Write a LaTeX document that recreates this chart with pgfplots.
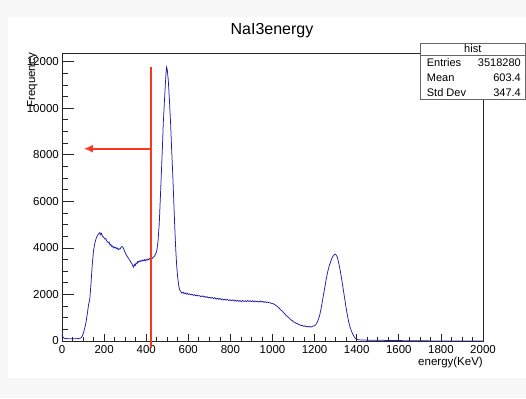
\documentclass[border=0pt]{standalone}
\usepackage{fontspec}
\setmainfont{Liberation Sans}
\usepackage{pgfplots}
\pgfplotsset{compat=1.18}
\usetikzlibrary{arrows.meta}
\definecolor{histblue}{RGB}{30,30,170}
\definecolor{rootred}{RGB}{250,55,30}
\definecolor{bggray}{RGB}{247,247,247}
\begin{document}
\begin{tikzpicture}
\useasboundingbox (-62pt,-57pt) rectangle (464pt,341pt);
\fill[bggray] (-62pt,-57pt) rectangle (464pt,341pt);
\fill[white] (-54pt,-37pt) rectangle (464pt,324pt);
\begin{axis}[
  scale only axis, width=421pt, height=288pt,
  at={(0,0)}, anchor=south west,
  xmin=0, xmax=2000, ymin=0, ymax=12370,
  xtick={0,200,...,2000}, ytick={0,2000,...,12000},
  minor x tick num=3, minor y tick num=3,
  tick align=inside, xtick pos=lower, ytick pos=left,
  axis line style={black!85, line width=0.8pt},
  every tick/.style={black!85, line width=0.7pt},
  xtick style={/pgfplots/major tick length=7pt,/pgfplots/minor tick length=4pt},
  ytick style={/pgfplots/major tick length=12pt,/pgfplots/minor tick length=6pt},
  scaled y ticks=false, scaled x ticks=false,
  /pgf/number format/assume math mode=true,
  /pgf/number format/1000 sep={},
  yticklabel style={font=\fontsize{11.5}{13}\selectfont, inner sep=0pt, xshift=-3pt},
  xticklabel style={font=\fontsize{11.5}{13}\selectfont, inner sep=0pt, yshift=-4pt},
  xlabel={energy(KeV)},
  xlabel style={at={(rel axis cs:1,0)}, anchor=north east, inner sep=0pt, yshift=-15.5pt, font=\fontsize{11.5}{13}\selectfont},
  clip=false,
]
\addplot[histblue, line width=0.75pt, sharp plot] coordinates {
(0,260) (4,180) (8,130) (14,110) (20,105) (30,100) (40,95) (50,100) (60,95) (70,100)
(80,110) (90,130) (96,200) (102,350) (108,550) (114,800) (120,1150) (126,1550) (132,1800) (138,2500)
(144,3300) (150,3900) (156,4200) (162,4400) (168,4530) (174,4600) (180,4660) (184,4560) (188,4620) (192,4500) (196,4470)
(200,4430) (204,4380) (208,4400) (212,4300) (216,4260) (220,4220) (224,4250) (228,4120) (232,4150) (236,4060) (240,4080)
(244,4010) (248,4040) (252,3990) (256,4030) (260,3960) (264,3990) (268,3920) (272,3960) (276,3950) (280,4020) (284,4060)
(288,4040) (292,3980) (296,3880) (300,3800) (304,3720) (308,3660) (312,3600) (316,3560) (320,3480) (324,3440) (328,3370)
(332,3330) (336,3230) (340,3170) (344,3290) (348,3240) (352,3350) (356,3320) (360,3420) (364,3380) (368,3440) (372,3410)
(376,3460) (380,3430) (384,3480) (388,3450) (392,3490) (396,3440) (400,3500) (404,3470) (408,3520) (412,3490) (416,3540)
(420,3510) (424,3560) (428,3540) (432,3590) (436,3610) (440,3650) (444,3720) (450,3860) (456,4250)
(462,5040) (467,6100) (472,7190) (477,8300) (481,9330) (486,10200) (491,11040) (495,11600) (497,11760) (500,11650)
(505,11190) (510,10400) (516,9330) (521,8200) (526,7190) (531,6000) (535,5040) (540,4000) (545,3200) (550,2700)
(555,2350) (560,2180) (565,2120) (570,2060) (575,2100) (580,2040) (585,2070) (590,2010) (595,2050) (600,2000)
(606,2030) (612,1980) (618,2010) (624,1960) (630,1990) (636,1940) (642,1970) (648,1930) (654,1950) (660,1900)
(666,1940) (672,1890) (678,1920) (684,1870) (690,1900) (696,1850) (702,1880) (708,1840) (714,1870) (720,1820)
(726,1860) (732,1800) (738,1840) (744,1790) (750,1830) (756,1770) (762,1810) (768,1760) (774,1800) (780,1750)
(786,1790) (792,1740) (798,1770) (804,1730) (810,1770) (816,1720) (822,1760) (828,1710) (834,1750) (840,1700)
(846,1740) (852,1690) (858,1740) (864,1700) (870,1730) (876,1690) (882,1740) (888,1700) (894,1730) (900,1690)
(906,1730) (912,1680) (918,1720) (924,1690) (930,1710) (936,1670) (942,1720) (948,1680) (954,1700) (960,1660)
(966,1690) (972,1650) (978,1670) (984,1640) (990,1640) (996,1600) (1002,1610) (1010,1560) (1016,1530) (1022,1490)
(1028,1440) (1034,1390) (1040,1330) (1046,1290) (1052,1220) (1058,1170) (1064,1100) (1070,1060) (1076,1000) (1082,970)
(1088,900) (1094,880) (1100,820) (1106,800) (1112,760) (1118,750) (1124,710) (1130,700) (1136,660) (1142,670)
(1148,630) (1154,650) (1160,610) (1166,630) (1172,600) (1178,620) (1184,600) (1190,630) (1198,650) (1205,700)
(1212,800) (1218,930) (1224,1100) (1230,1350) (1236,1650)
(1242,1980) (1249,2330) (1256,2700) (1263,3000) (1270,3250) (1276,3400) (1282,3550) (1288,3650) (1294,3710) (1298,3730)
(1302,3700) (1308,3600) (1314,3380) (1321,3050) (1327,2750) (1333,2400) (1339,2050) (1344,1760) (1350,1400) (1356,1100)
(1362,820) (1368,615) (1376,400) (1384,250) (1392,130) (1400,70) (1410,50) (1430,40) (1460,35) (1500,30)
(1550,25) (1600,18) (1650,12) (1700,8) (1750,5) (1800,3) (1850,2) (1900,1) (2000,0)
};
\addplot[rootred, line width=1.7pt] coordinates {(424,11760) (424,-280)};
\addplot[rootred, line width=1.7pt, -{Latex[length=9pt,width=8pt]}] coordinates {(424,8260) (104,8260)};
\end{axis}
\node[font=\fontsize{16}{19}\selectfont, anchor=base] at (210pt,306pt) {NaI3energy};
\node[rotate=90, anchor=north east, inner sep=0pt, font=\fontsize{11.5}{13}\selectfont] at (-35pt,288pt) {Frequency};
\filldraw[fill=white, draw=black!60, line width=0.7pt] (358pt,242pt) rectangle (463.5pt,298pt);
\draw[black!60, line width=0.7pt] (358pt,286pt) -- (463.5pt,286pt);
\begin{scope}[every node/.style={font=\fontsize{11}{13}\selectfont, inner sep=0pt}]
\node[anchor=base] at (410.75pt,288pt) {hist};
\node[anchor=base west] at (364.7pt,274pt) {Entries};
\node[anchor=base east] at (459pt,274pt) {3518280};
\node[anchor=base west] at (364.7pt,259pt) {Mean};
\node[anchor=base east] at (459pt,259pt) {603.4};
\node[anchor=base west] at (364.7pt,244.5pt) {Std Dev};
\node[anchor=base east] at (459pt,244.5pt) {347.4};
\end{scope}
\end{tikzpicture}
\end{document}
